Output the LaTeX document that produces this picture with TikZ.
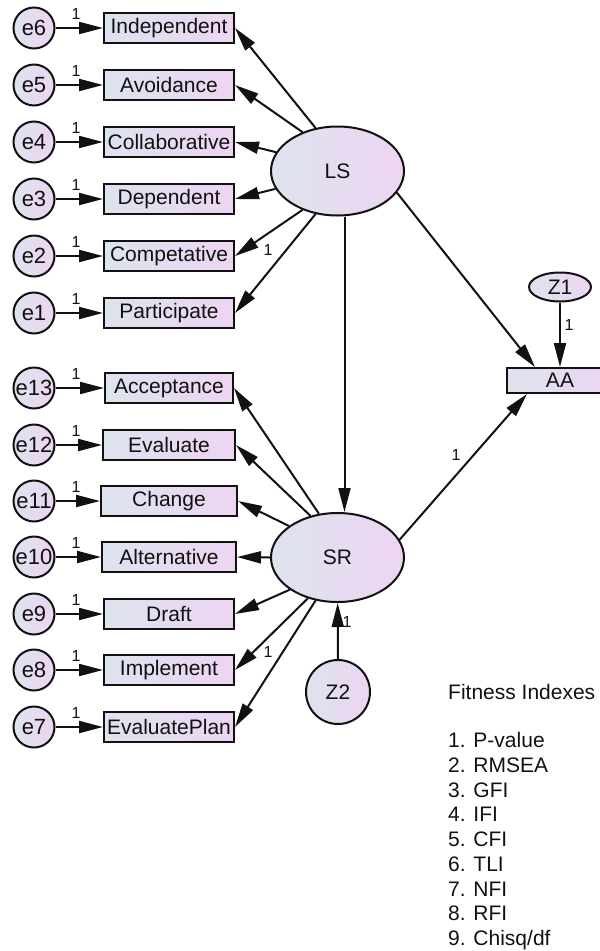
\documentclass[tikz,border=0pt]{standalone}
\usepackage{fontspec}
\setmainfont{Liberation Sans}
\usetikzlibrary{shapes.geometric,arrows.meta}
\definecolor{gA}{HTML}{DDE3EF}
\definecolor{gB}{HTML}{EDD5F1}
\definecolor{ink}{HTML}{111111}
\newcommand\fsz[1]{\fontsize{#1}{#1}\selectfont}
\begin{document}
\begin{tikzpicture}[x=1pt,y=-1pt,
  lat/.style={ellipse, draw=ink, line width=2pt, left color=gA, right color=gB, minimum width=133pt, minimum height=89pt, inner sep=0pt, font=\fsz{21}, text=ink},
  err/.style={circle, draw=ink, line width=2pt, left color=gA, right color=gB, minimum size=41pt, inner sep=0pt, font=\fsz{22}, text=ink},
  obs/.style={rectangle, draw=ink, line width=2pt, left color=gA, right color=gB, minimum width=130pt, minimum height=30pt, inner sep=0pt, font=\fsz{21}, text=ink},
  arr/.style={draw=ink, line width=2pt, -{Triangle[length=24pt,width=12pt]}},
  one/.style={font=\fsz{16}, text=ink, inner sep=0pt},
  lst/.style={anchor=base west, font=\fsz{21}, text=ink, inner sep=0pt}]
\useasboundingbox (0,0) rectangle (600,951);
\clip (0,0) rectangle (600,951);

% indicators with error terms
\foreach \i/\y/\t/\w in {6/28/Independent/130, 5/85/Avoidance/130, 4/142/Collaborative/130, 3/199/Dependent/130, 2/256/Competative/130, 1/313/Participate/130,
  13/388/Acceptance/128, 12/445/Evaluate/132, 11/501/Change/136, 10/557/Alternative/134, 9/614/Draft/130, 8/670/Implement/130, 7/727/EvaluatePlan/130}{
  \node[err] (e\i) at (34,\y) {e\i};
  \node[obs, minimum width=\w pt] (b\i) at (169,\y) {\t};
  \draw[arr] (e\i) -- (b\i);
  \node[one] (l\i) at (76,{\y-14}) {1};
}

% latent variables
\node[lat] (LS) at (337.5,171) {LS};
\node[lat] (SR) at (337.5,557.5) {SR};
\node[circle, draw=ink, line width=2pt, left color=gA, right color=gB, minimum size=64pt, inner sep=0pt, font=\fsz{21}, text=ink] (Z2) at (338,692) {Z2};
\node[ellipse, draw=ink, line width=2pt, left color=gA, right color=gB, minimum width=62pt, minimum height=29pt, inner sep=0pt, font=\fsz{21}, text=ink] (Z1) at (560,287) {Z1};
\node[obs, minimum width=106pt, minimum height=25pt] (AA) at (560,380.5) {AA};

% LS loadings
\draw[arr] (LS.117) -- (b6.east);
\draw[arr] (LS.132) -- (b5.east);
\draw[arr] (LS.163) -- (b4.east);
\draw[arr] (LS.196) -- (b3.east);
\draw[arr] (LS.228) -- (b2.east);
\draw[arr] (LS.243) -- (b1.east);
\node[one] (lLS) at (268,250) {1};

% SR loadings
\draw[arr] (SR.113) -- (b13.east);
\draw[arr] (SR.123) -- (b12.east);
\draw[arr] (SR.147) -- (b11.east);
\draw[arr] (SR.180) -- (b10.east);
\draw[arr] (SR.214) -- (b9.east);
\draw[arr] (SR.234) -- (b8.east);
\draw[arr] (SR.243) -- (b7.east);
\node[one] (lSR) at (268,652) {1};

% structural paths
\draw[arr] ([xshift=7pt]LS.south) -- ([xshift=7pt]SR.north);
\draw[arr] (LS.-20) -- ([xshift=-25pt]AA.north);
\draw[arr] (SR.16) -- ([xshift=-33pt]AA.south);
\node[one] (lAA) at (456,455) {1};
\draw[arr] (Z1) -- (AA);
\node[one] (lZ1) at (569,325) {1};
\draw[arr] (Z2) -- (SR);
\node[one] (lZ2) at (347,622) {1};

% fitness list
\node[lst] (fit) at (448,699.5) {Fitness Indexes};
\foreach \k/\t in {1/P-value, 2/RMSEA, 3/GFI, 4/IFI, 5/CFI, 6/TLI, 7/NFI, 8/RFI, 9/Chisq\slash df}{
  \node[lst] (f\k) at (448,{747.5+(\k-1)*24.75}) {\k. \t};
}
\end{tikzpicture}
\end{document}
